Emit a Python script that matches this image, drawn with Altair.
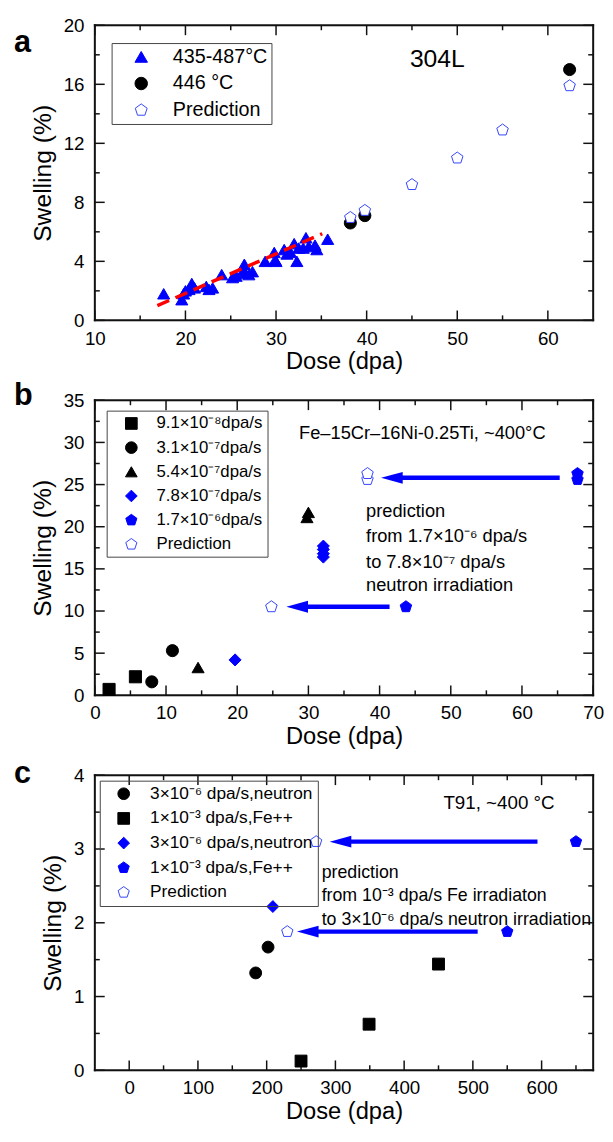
import altair as alt
import pandas as pd

FONT = "Liberation Sans"
BLUE = "#0000ff"
PBLUE = "#3344ff"
INK = "#111111"
PENT = "M0,-1L0.951,-0.309L0.588,0.809L-0.588,0.809L-0.951,-0.309Z"
HEAD = "M-1,0L1,-0.55L1,0.55Z"
TICK_UP, TICK_DOWN = "M0,0L0,-1", "M0,0L0,1"
TICK_RIGHT, TICK_LEFT = "M0,0L1,0", "M0,0L-1,0"
W, H = 505, 299

# ---------------- panel a data ----------------
a_tri_x = [17.6, 19.6, 19.8, 20.0, 20.4, 20.7, 21.0, 22.3, 22.6, 23.0, 24.0, 25.2, 25.6,
           26.4, 26.5, 26.6, 27.0, 27.4, 28.8, 29.8, 29.9, 30.0, 30.9, 31.2, 31.6, 32.0,
           32.3, 32.5, 33.0, 33.3, 33.6, 34.3, 34.5, 35.7]
a_tri_y = [1.8, 1.4, 1.8, 2.0, 2.1, 2.5, 2.2, 2.3, 2.1, 2.2, 3.1, 2.9, 3.0,
           3.4, 3.8, 3.2, 3.1, 3.3, 4.0, 4.6, 4.1, 4.0, 4.8, 4.5, 4.6, 5.2,
           4.0, 4.9, 4.9, 5.6, 5.0, 5.1, 4.8, 5.5]
a_blk_x = [38.2, 39.8, 62.4]
a_blk_y = [6.6, 7.1, 17.0]
a_pred_x = [38.2, 39.8, 45.0, 50.0, 55.0, 62.4]
a_pred_y = [6.97, 7.45, 9.2, 11.0, 12.9, 15.9]
a_fit_x = [16.9, 35.1]
a_fit_y = [1.0, 5.87]
a_keys = ["435-487°C", "446 °C", "Prediction"]

# ---------------- panel b data ----------------
b_sq_x, b_sq_y = [2.0, 5.7], [0.7, 2.2]
b_ci_x, b_ci_y = [8.0, 10.9], [1.6, 5.3]
b_tr_x, b_tr_y = [14.5, 29.8, 30.0], [3.3, 21.1, 21.7]
b_di_x, b_di_y = [19.7, 32.1, 32.1, 32.1, 32.1], [4.2, 16.4, 16.8, 17.3, 17.7]
b_pe_x, b_pe_y = [43.7, 67.8, 67.8], [10.5, 25.6, 26.3]
b_pr_x, b_pr_y = [24.8, 38.3, 38.3], [10.5, 25.6, 26.3]
b_keys = ["9.1×10⁻⁸dpa/s", "3.1×10⁻⁷dpa/s", "5.4×10⁻⁷dpa/s",
          "7.8×10⁻⁷dpa/s", "1.7×10⁻⁶dpa/s", "Prediction"]
b_arrow_tail = [65.3, 41.4]
b_arrow_tip = [40.2, 26.9]
b_arrow_y = [25.8, 10.5]

# ---------------- panel c data ----------------
c_ci_x, c_ci_y = [184, 202], [1.32, 1.67]
c_sq_x, c_sq_y = [250, 349, 450], [0.125, 0.625, 1.44]
c_di_x, c_di_y = [209], [2.22]
c_pe_x, c_pe_y = [550, 650], [1.88, 3.1]
c_pr_x, c_pr_y = [230, 272], [1.88, 3.1]
c_keys = ["c1", "c2", "c3", "c4", "c5"]
c_labels = ["3×10⁻⁶ dpa/s,neutron", "1×10⁻³ dpa/s,Fe++", "3×10⁻⁶ dpa/s,neutron",
            "1×10⁻³ dpa/s,Fe++", "Prediction"]
c_arrow_tail = [594, 507]
c_arrow_tip = [291.6, 244]
c_arrow_y = [3.1, 1.88]


class Panel:
    def __init__(self, xdom, ydom, xmaj, ymaj):
        self.xdom, self.ydom = xdom, ydom
        self.xs = alt.Scale(domain=xdom, nice=False, zero=False)
        self.ys = alt.Scale(domain=ydom, nice=False, zero=False)
        self.ax = alt.Axis(
            orient="bottom", values=xmaj, title="Dose (dpa)", ticks=False, tickSize=0,
            domain=False, grid=False, labelPadding=9, labelFontSize=19,
            titleFontSize=24, titlePadding=2, labelFlush=False,
            titleFontWeight="normal", labelFont=FONT, titleFont=FONT,
            labelColor="black", titleColor="black")
        self.ay = alt.Axis(
            orient="left", values=ymaj, title="Swelling (%)", ticks=False, tickSize=0,
            domain=False, grid=False, labelPadding=11, labelFontSize=19,
            titleFontSize=25, titlePadding=8, labelFlush=False,
            titleFontWeight="normal", labelFont=FONT, titleFont=FONT,
            labelColor="black", titleColor="black")

    def X(self, f):
        return alt.X(f, type="quantitative", scale=self.xs, axis=self.ax)

    def Y(self, f):
        return alt.Y(f, type="quantitative", scale=self.ys, axis=self.ay)


def pts(groups):
    rows = []
    for key, xs, ys in groups:
        for x, y in zip(xs, ys):
            rows.append({"x": x, "y": y, "s": key})
    return pd.DataFrame(rows)


def frame_layers(P, xmaj, xmin, ymaj, ymin):
    x0, x1 = P.xdom
    y0, y1 = P.ydom
    layers = []
    # plot frame: four straight line segments along the domain limits
    for xs_, ys_ in [([x0, x1], [y0, y0]), ([x0, x1], [y1, y1]),
                     ([x0, x0], [y0, y1]), ([x1, x1], [y0, y1])]:
        d = pd.DataFrame({"x": xs_, "y": ys_})
        layers.append(alt.Chart(d).mark_line(color=INK, strokeWidth=2, strokeCap="square").encode(
            x=P.X("x"), y=P.Y("y")))
    # inward ticks on all four sides: one-sided line symbols at the tick values
    for vals, size in [(xmaj, 400), (xmin, 100)]:
        n = len(vals)
        for edge, shape in [(y0, TICK_UP), (y1, TICK_DOWN)]:
            d = pd.DataFrame({"x": vals, "y": [edge] * n})
            layers.append(alt.Chart(d).mark_point(
                shape=shape, size=size, filled=False, stroke=INK, strokeWidth=1.5,
                opacity=1).encode(x=P.X("x"), y=P.Y("y")))
    for vals, size in [(ymaj, 400), (ymin, 100)]:
        n = len(vals)
        for edge, shape in [(x0, TICK_RIGHT), (x1, TICK_LEFT)]:
            d = pd.DataFrame({"x": [edge] * n, "y": vals})
            layers.append(alt.Chart(d).mark_point(
                shape=shape, size=size, filled=False, stroke=INK, strokeWidth=1.5,
                opacity=1).encode(x=P.X("x"), y=P.Y("y")))
    return layers


def point_layer(P, df, keys, shapes, fills, strokes, size, leg):
    return alt.Chart(df).mark_point(filled=True, size=size, strokeWidth=1, opacity=1).encode(
        x=P.X("x"), y=P.Y("y"),
        shape=alt.Shape("s:N", scale=alt.Scale(domain=keys, range=shapes), legend=leg),
        fill=alt.Fill("s:N", scale=alt.Scale(domain=keys, range=fills), legend=leg),
        stroke=alt.Stroke("s:N", scale=alt.Scale(domain=keys, range=strokes), legend=leg),
    )


def text_layer(P, xs_, ys_, texts, size, align):
    df = pd.DataFrame({"x": xs_, "y": ys_, "t": texts})
    return alt.Chart(df).mark_text(fontSize=size, align=align, baseline="middle",
                                   font=FONT, color="black").encode(
        x=P.X("x"), y=P.Y("y"), text="t:N")


def panel_label(letter, dy):
    df = pd.DataFrame({"t": [letter]})
    return alt.Chart(df).mark_text(fontSize=31, fontWeight="bold", align="left",
                                   baseline="alphabetic", font=FONT, color="black").encode(
        x=alt.value(-82), y=alt.value(dy), text="t:N")


def arrow_layers(P, tail, tip, yv):
    df = pd.DataFrame({"x": tail, "x2": tip, "y": yv})
    shaft = alt.Chart(df).mark_rule(color=BLUE, strokeWidth=4.5, x2Offset=14).encode(
        x=P.X("x"), x2="x2:Q", y=P.Y("y"))
    head = alt.Chart(df).mark_point(shape=HEAD, size=480, filled=True, color=BLUE,
                                    opacity=1, xOffset=11).encode(
        x=P.X("x2"), y=P.Y("y"))
    return [shaft, head]


def legend(x, y, pad, soff, loff, rpad, fsize, ssize, expr=None):
    kw = dict(orient="none", legendX=x, legendY=y, title=None, padding=pad,
              symbolOffset=soff, labelOffset=loff, rowPadding=rpad, labelFontSize=fsize,
              symbolSize=ssize, symbolStrokeWidth=1, strokeColor="#444",
              labelLimit=400, labelFont=FONT, labelColor="black")
    if expr:
        kw["labelExpr"] = expr
    return alt.Legend(**kw)


# ---------------- panel a ----------------
xmaj_a, ymaj_a = [10, 20, 30, 40, 50, 60], [0, 4, 8, 12, 16, 20]
PA = Panel([10, 65], [0, 20], xmaj_a, ymaj_a)
dfa = pts([(a_keys[0], a_tri_x, a_tri_y), (a_keys[1], a_blk_x, a_blk_y),
           (a_keys[2], a_pred_x, a_pred_y)])
leg_a = legend(17, 18, 4, 16, 22, 7, 20, 160)
fit = alt.Chart(pd.DataFrame({"x": a_fit_x, "y": a_fit_y})).mark_line(
    color="#ff0000", strokeWidth=3.5, strokeDash=[13, 7]).encode(x=PA.X("x"), y=PA.Y("y"))
pa = alt.layer(
    *frame_layers(PA, xmaj_a, [15, 25, 35, 45, 55], ymaj_a, [2, 6, 10, 14, 18]),
    point_layer(PA, dfa, a_keys, ["triangle-up", "circle", PENT],
                [BLUE, "black", "white"], [BLUE, "black", PBLUE], 150, leg_a),
    fit,
    text_layer(PA, [47.8], [17.7], ["304L"], 25, "center"),
    panel_label("a", 27),
).properties(width=W, height=H)

# ---------------- panel b ----------------
xmaj_b, ymaj_b = [0, 10, 20, 30, 40, 50, 60, 70], [0, 5, 10, 15, 20, 25, 30, 35]
PB = Panel([0, 70], [0, 35], xmaj_b, ymaj_b)
dfb = pts([(b_keys[0], b_sq_x, b_sq_y), (b_keys[1], b_ci_x, b_ci_y),
           (b_keys[2], b_tr_x, b_tr_y), (b_keys[3], b_di_x, b_di_y),
           (b_keys[4], b_pe_x, b_pe_y), (b_keys[5], b_pr_x, b_pr_y)])
leg_b = legend(12, 10.5, 4.5, 12, 17, 6.5, 17, 140)
pb = alt.layer(
    *frame_layers(PB, xmaj_b, [5, 15, 25, 35, 45, 55, 65], ymaj_b,
                  [2.5, 7.5, 12.5, 17.5, 22.5, 27.5, 32.5]),
    *arrow_layers(PB, b_arrow_tail, b_arrow_tip, b_arrow_y),
    point_layer(PB, dfb, b_keys, ["square", "circle", "triangle-up", "diamond", PENT, PENT],
                ["black", "black", "black", BLUE, BLUE, "white"],
                ["black", "black", "black", BLUE, BLUE, PBLUE], 150, leg_b),
    text_layer(PB, [46.0], [31.1], ["Fe–15Cr–16Ni-0.25Ti, ~400°C"], 18.5, "center"),
    text_layer(PB, [38.1] * 4, [21.8, 18.85, 15.8, 13.1],
               ["prediction", "from 1.7×10⁻⁶ dpa/s", "to 7.8×10⁻⁷ dpa/s", "neutron irradiation"],
               18.5, "left"),
    panel_label("b", 5),
).properties(width=W, height=H)

# ---------------- panel c ----------------
xmaj_c, ymaj_c = [0, 100, 200, 300, 400, 500, 600], [0, 1, 2, 3, 4]
PC = Panel([-50, 675], [0, 4], xmaj_c, ymaj_c)
dfc = pts([(c_keys[0], c_ci_x, c_ci_y), (c_keys[1], c_sq_x, c_sq_y),
           (c_keys[2], c_di_x, c_di_y), (c_keys[3], c_pe_x, c_pe_y),
           (c_keys[4], c_pr_x, c_pr_y)])
label_map = "{" + ",".join("'%s':'%s'" % (k, l) for k, l in zip(c_keys, c_labels)) + "}"
leg_c = legend(5, 5.5, 4.5, 11, 18, 6, 17.5, 140, label_map + "[datum.label]")
pc = alt.layer(
    *frame_layers(PC, xmaj_c, [50, 150, 250, 350, 450, 550, 650], ymaj_c,
                  [0.5, 1.5, 2.5, 3.5]),
    *arrow_layers(PC, c_arrow_tail, c_arrow_tip, c_arrow_y),
    point_layer(PC, dfc, c_keys, ["circle", "square", "diamond", PENT, PENT],
                ["black", "black", BLUE, BLUE, "white"],
                ["black", "black", BLUE, BLUE, PBLUE], 145, leg_c),
    text_layer(PC, [538], [3.62], ["T91, ~400 °C"], 19, "center"),
    text_layer(PC, [280] * 3, [2.67, 2.36, 2.04],
               ["prediction", "from 10⁻³ dpa/s Fe irradiaton", "to 3×10⁻⁶ dpa/s neutron irradiation"],
               18, "left"),
    panel_label("c", 8),
).properties(width=W, height=H)

chart = alt.vconcat(pa, pb, pc, spacing=81, bounds="flush").resolve_scale(
    shape="independent", fill="independent", stroke="independent"
).resolve_legend(
    shape="independent", fill="independent", stroke="independent"
).properties(
    padding={"left": 5, "top": 0, "right": 0, "bottom": 0}
).configure_view(stroke="black", strokeWidth=2).configure_axis(
    labelFont=FONT, titleFont=FONT, labelColor="black", titleColor="black",
    titleFontWeight="normal"
).configure_legend(strokeWidth=1.3).configure(font=FONT)

chart.save("out.html", embed_options={"renderer": "svg", "actions": False})
